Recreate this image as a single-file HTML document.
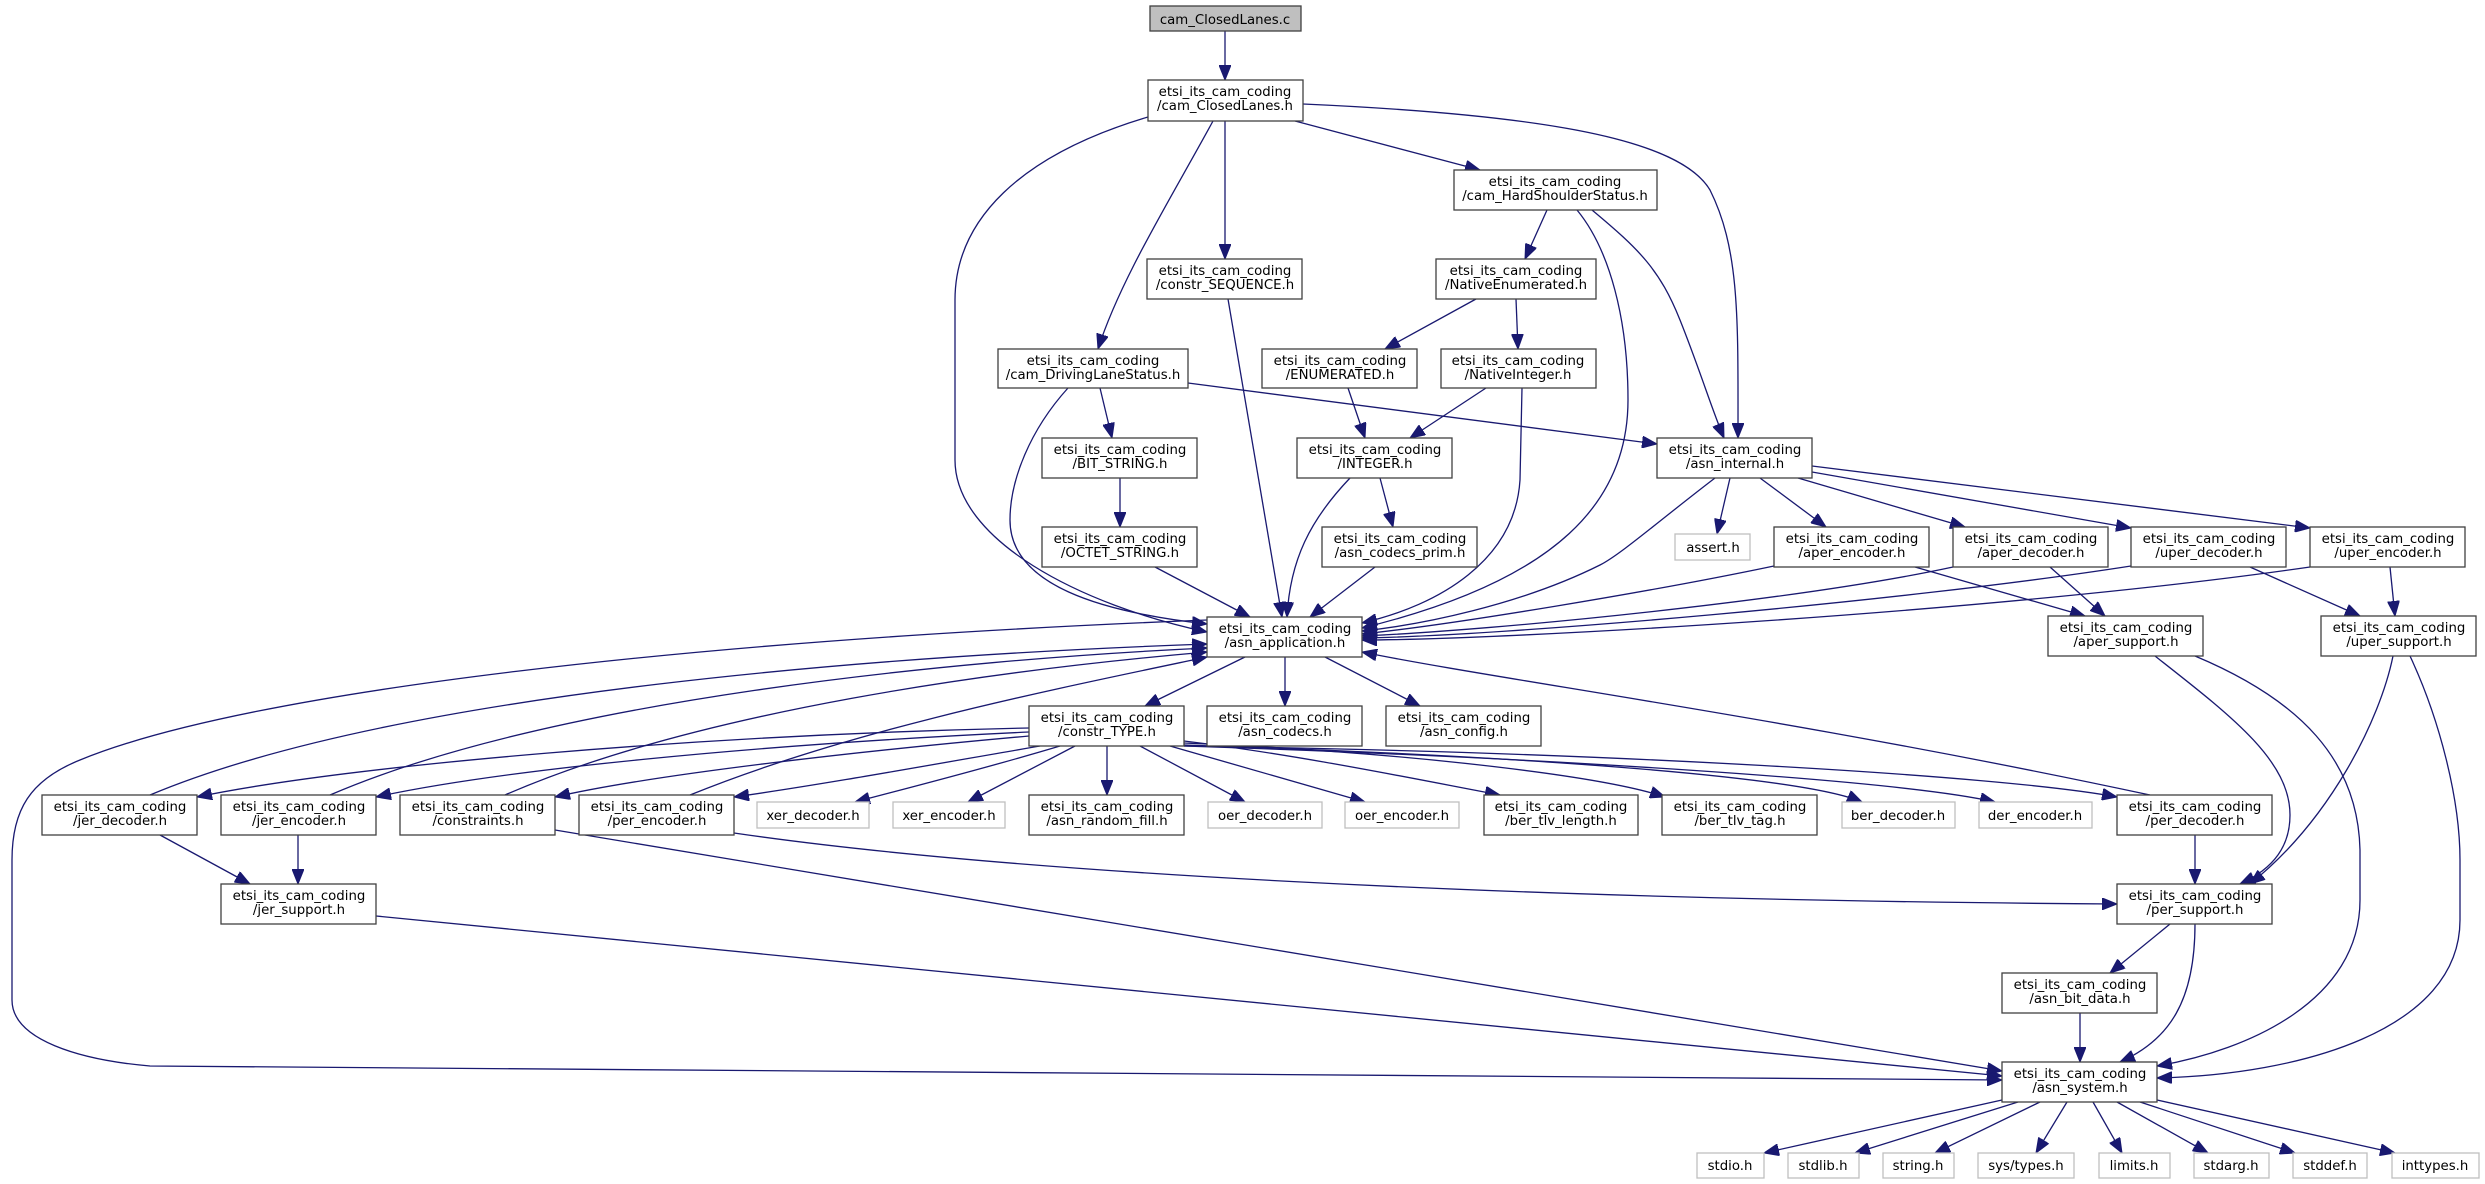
<!DOCTYPE html>
<html><head><meta charset="utf-8"><style>
html,body{margin:0;padding:0;background:#fff;}
svg{display:block}
text{font-family:"DejaVu Sans","Liberation Sans",sans-serif;font-size:13.3px;fill:#000;text-anchor:middle}
.n{fill:#fff;stroke:#404040;stroke-width:1.3}
.g{fill:#fff;stroke:#bfbfbf;stroke-width:1.3}
.e path{fill:none;stroke:#191970;stroke-width:1.3;marker-end:url(#a)}
</style></head><body>
<svg width="2485" height="1184" viewBox="0 0 2485 1184" xmlns="http://www.w3.org/2000/svg">
<defs><marker id="a" markerUnits="userSpaceOnUse" markerWidth="16" markerHeight="12" refX="15" refY="6" orient="auto"><path d="M0,0 L15,6 L0,12 z" fill="#191970" stroke="#191970"/></marker></defs>
<g class="e">
<path d="M1225,31 L1225,80"/>
<path d="M1295,121 L1480,170"/>
<path d="M1225,121 L1225,259"/>
<path d="M1213,121 C1170,200 1120,280 1098,349"/>
<path d="M1148,117 C1020,155 955,220 955,300 L955,460 C955,540 1080,605 1207,632"/>
<path d="M1303,104 C1550,115 1680,140 1710,190 C1740,250 1738,320 1738,438"/>
<path d="M1547,210 L1525,259"/>
<path d="M1577,210 C1610,250 1628,320 1628,400 C1628,500 1560,580 1362,628"/>
<path d="M1592,210 C1640,250 1660,270 1680,320 C1700,370 1712,410 1724,438"/>
<path d="M1228,299 L1282,617"/>
<path d="M1476,299 L1385,349"/>
<path d="M1516,299 L1518,349"/>
<path d="M1100,388 L1112,438"/>
<path d="M1068,388 C1030,430 1010,480 1010,520 C1010,585 1100,612 1207,624"/>
<path d="M1188,383 L1657,444"/>
<path d="M1348,388 L1365,438"/>
<path d="M1486,388 L1410,438"/>
<path d="M1522,388 L1520,480 C1515,560 1440,605 1362,623"/>
<path d="M1120,478 L1120,527"/>
<path d="M1155,567 L1250,617"/>
<path d="M1380,478 L1393,527"/>
<path d="M1350,478 C1310,520 1290,560 1287,617"/>
<path d="M1375,567 L1310,617"/>
<path d="M1730,478 L1717,534"/>
<path d="M1760,478 L1826,527"/>
<path d="M1798,478 L1965,527"/>
<path d="M1812,472 L2131,528"/>
<path d="M1812,466 L2310,528"/>
<path d="M1715,478 C1660,520 1620,555 1600,565 C1520,605 1420,625 1362,631"/>
<path d="M1774,566 C1650,592 1450,625 1362,634"/>
<path d="M1953,567 C1800,600 1500,630 1362,636"/>
<path d="M2131,566 C1900,602 1500,636 1362,638"/>
<path d="M2310,567 C2000,612 1500,640 1362,640"/>
<path d="M1915,567 L2085,616"/>
<path d="M2050,567 L2105,616"/>
<path d="M2250,567 L2360,616"/>
<path d="M2390,567 L2395,616"/>
<path d="M2155,656 C2230,715 2290,760 2290,815 C2290,845 2275,868 2240,884"/>
<path d="M2195,656 C2300,700 2358,760 2360,850 L2360,900 C2360,1000 2250,1050 2157,1066"/>
<path d="M2393,656 C2380,720 2330,820 2250,884"/>
<path d="M2410,656 C2440,720 2460,800 2460,860 L2460,920 C2460,1030 2300,1075 2157,1078"/>
<path d="M1245,657 L1145,706"/>
<path d="M1285,657 L1285,706"/>
<path d="M1325,657 L1420,706"/>
<path d="M1107,746 L1107,795"/>
<path d="M1029,728 C700,735 350,765 197,797"/>
<path d="M1029,732 C750,745 500,770 376,797"/>
<path d="M1029,736 C850,752 650,775 555,797"/>
<path d="M1040,746 C930,765 820,785 734,797"/>
<path d="M1060,746 C980,770 900,790 855,802"/>
<path d="M1075,746 L968,802"/>
<path d="M1140,746 L1245,802"/>
<path d="M1170,746 L1365,802"/>
<path d="M1184,741 C1300,755 1420,780 1500,795"/>
<path d="M1184,743 C1400,752 1600,775 1665,797"/>
<path d="M1184,745 C1500,755 1800,775 1862,802"/>
<path d="M1184,746 C1550,758 1900,780 1995,802"/>
<path d="M1184,746 C1600,752 2000,775 2117,797"/>
<path d="M150,795 C400,690 900,655 1207,644"/>
<path d="M330,795 C550,700 950,660 1207,648"/>
<path d="M505,795 C700,710 1000,670 1207,652"/>
<path d="M690,795 C850,730 1050,690 1207,657"/>
<path d="M2150,795 C1800,720 1500,680 1362,652"/>
<path d="M160,835 L250,884"/>
<path d="M298,835 L298,884"/>
<path d="M376,916 L2002,1076"/>
<path d="M555,830 L2002,1071"/>
<path d="M734,833 C1000,872 1500,900 2117,904"/>
<path d="M1207,620 C700,640 250,690 80,760 C30,780 12,810 12,860 L12,1000 C12,1040 80,1060 150,1066 L2002,1080"/>
<path d="M2195,835 L2195,884"/>
<path d="M2170,924 L2110,973"/>
<path d="M2195,924 C2195,1000 2170,1040 2120,1062"/>
<path d="M2080,1013 L2080,1062"/>
<path d="M2002,1100 L1764,1153"/>
<path d="M2018,1102 L1855,1153"/>
<path d="M2040,1102 L1935,1153"/>
<path d="M2067,1102 L2036,1153"/>
<path d="M2093,1102 L2122,1153"/>
<path d="M2117,1102 L2208,1153"/>
<path d="M2140,1102 L2295,1153"/>
<path d="M2157,1100 L2395,1153"/>
</g>
<!-- nodes -->
<rect x="1150" y="6" width="151" height="25" fill="#bfbfbf" stroke="#404040" stroke-width="1.3"/><text x="1225" y="24">cam_ClosedLanes.c</text>
<rect class="n" x="1148" y="80" width="155" height="41"/><text x="1225" y="96">etsi_its_cam_coding</text><text x="1225" y="110">/cam_ClosedLanes.h</text>
<rect class="n" x="1454" y="170" width="203" height="40"/><text x="1555" y="186">etsi_its_cam_coding</text><text x="1555" y="200">/cam_HardShoulderStatus.h</text>
<rect class="n" x="1147" y="259" width="155" height="40"/><text x="1225" y="275">etsi_its_cam_coding</text><text x="1225" y="289">/constr_SEQUENCE.h</text>
<rect class="n" x="1436" y="259" width="160" height="40"/><text x="1516" y="275">etsi_its_cam_coding</text><text x="1516" y="289">/NativeEnumerated.h</text>
<rect class="n" x="998" y="349" width="190" height="39"/><text x="1093" y="365">etsi_its_cam_coding</text><text x="1093" y="379">/cam_DrivingLaneStatus.h</text>
<rect class="n" x="1262" y="349" width="155" height="39"/><text x="1340" y="365">etsi_its_cam_coding</text><text x="1340" y="379">/ENUMERATED.h</text>
<rect class="n" x="1441" y="349" width="155" height="39"/><text x="1518" y="365">etsi_its_cam_coding</text><text x="1518" y="379">/NativeInteger.h</text>
<rect class="n" x="1042" y="438" width="155" height="40"/><text x="1120" y="454">etsi_its_cam_coding</text><text x="1120" y="468">/BIT_STRING.h</text>
<rect class="n" x="1297" y="438" width="155" height="40"/><text x="1375" y="454">etsi_its_cam_coding</text><text x="1375" y="468">/INTEGER.h</text>
<rect class="n" x="1657" y="438" width="155" height="40"/><text x="1735" y="454">etsi_its_cam_coding</text><text x="1735" y="468">/asn_internal.h</text>
<rect class="n" x="1042" y="527" width="155" height="40"/><text x="1120" y="543">etsi_its_cam_coding</text><text x="1120" y="557">/OCTET_STRING.h</text>
<rect class="n" x="1322" y="527" width="155" height="40"/><text x="1400" y="543">etsi_its_cam_coding</text><text x="1400" y="557">/asn_codecs_prim.h</text>
<rect class="g" x="1675" y="534" width="75" height="26"/><text x="1713" y="552">assert.h</text>
<rect class="n" x="1774" y="527" width="155" height="40"/><text x="1852" y="543">etsi_its_cam_coding</text><text x="1852" y="557">/aper_encoder.h</text>
<rect class="n" x="1953" y="527" width="155" height="40"/><text x="2031" y="543">etsi_its_cam_coding</text><text x="2031" y="557">/aper_decoder.h</text>
<rect class="n" x="2131" y="527" width="155" height="40"/><text x="2209" y="543">etsi_its_cam_coding</text><text x="2209" y="557">/uper_decoder.h</text>
<rect class="n" x="2310" y="527" width="155" height="40"/><text x="2388" y="543">etsi_its_cam_coding</text><text x="2388" y="557">/uper_encoder.h</text>
<rect class="n" x="1207" y="617" width="155" height="40"/><text x="1285" y="633">etsi_its_cam_coding</text><text x="1285" y="647">/asn_application.h</text>
<rect class="n" x="2048" y="616" width="155" height="40"/><text x="2126" y="632">etsi_its_cam_coding</text><text x="2126" y="646">/aper_support.h</text>
<rect class="n" x="2321" y="616" width="155" height="40"/><text x="2399" y="632">etsi_its_cam_coding</text><text x="2399" y="646">/uper_support.h</text>
<rect class="n" x="1029" y="706" width="155" height="40"/><text x="1107" y="722">etsi_its_cam_coding</text><text x="1107" y="736">/constr_TYPE.h</text>
<rect class="n" x="1207" y="706" width="155" height="40"/><text x="1285" y="722">etsi_its_cam_coding</text><text x="1285" y="736">/asn_codecs.h</text>
<rect class="n" x="1386" y="706" width="155" height="40"/><text x="1464" y="722">etsi_its_cam_coding</text><text x="1464" y="736">/asn_config.h</text>
<rect class="n" x="42" y="795" width="155" height="40"/><text x="120" y="811">etsi_its_cam_coding</text><text x="120" y="825">/jer_decoder.h</text>
<rect class="n" x="221" y="795" width="155" height="40"/><text x="299" y="811">etsi_its_cam_coding</text><text x="299" y="825">/jer_encoder.h</text>
<rect class="n" x="400" y="795" width="155" height="40"/><text x="478" y="811">etsi_its_cam_coding</text><text x="478" y="825">/constraints.h</text>
<rect class="n" x="579" y="795" width="155" height="40"/><text x="657" y="811">etsi_its_cam_coding</text><text x="657" y="825">/per_encoder.h</text>
<rect class="g" x="757" y="802" width="112" height="26"/><text x="813" y="820">xer_decoder.h</text>
<rect class="g" x="893" y="802" width="112" height="26"/><text x="949" y="820">xer_encoder.h</text>
<rect class="n" x="1029" y="795" width="155" height="40"/><text x="1107" y="811">etsi_its_cam_coding</text><text x="1107" y="825">/asn_random_fill.h</text>
<rect class="g" x="1208" y="802" width="114" height="26"/><text x="1265" y="820">oer_decoder.h</text>
<rect class="g" x="1345" y="802" width="114" height="26"/><text x="1402" y="820">oer_encoder.h</text>
<rect class="n" x="1484" y="795" width="154" height="40"/><text x="1561" y="811">etsi_its_cam_coding</text><text x="1561" y="825">/ber_tlv_length.h</text>
<rect class="n" x="1662" y="795" width="155" height="40"/><text x="1740" y="811">etsi_its_cam_coding</text><text x="1740" y="825">/ber_tlv_tag.h</text>
<rect class="g" x="1842" y="802" width="113" height="26"/><text x="1898" y="820">ber_decoder.h</text>
<rect class="g" x="1979" y="802" width="113" height="26"/><text x="2035" y="820">der_encoder.h</text>
<rect class="n" x="2117" y="795" width="155" height="40"/><text x="2195" y="811">etsi_its_cam_coding</text><text x="2195" y="825">/per_decoder.h</text>
<rect class="n" x="221" y="884" width="155" height="40"/><text x="299" y="900">etsi_its_cam_coding</text><text x="299" y="914">/jer_support.h</text>
<rect class="n" x="2117" y="884" width="155" height="40"/><text x="2195" y="900">etsi_its_cam_coding</text><text x="2195" y="914">/per_support.h</text>
<rect class="n" x="2002" y="973" width="155" height="40"/><text x="2080" y="989">etsi_its_cam_coding</text><text x="2080" y="1003">/asn_bit_data.h</text>
<rect class="n" x="2002" y="1062" width="155" height="40"/><text x="2080" y="1078">etsi_its_cam_coding</text><text x="2080" y="1092">/asn_system.h</text>
<rect class="g" x="1697" y="1153" width="67" height="25"/><text x="1730" y="1170">stdio.h</text>
<rect class="g" x="1788" y="1153" width="71" height="25"/><text x="1823" y="1170">stdlib.h</text>
<rect class="g" x="1883" y="1153" width="71" height="25"/><text x="1918" y="1170">string.h</text>
<rect class="g" x="1978" y="1153" width="96" height="25"/><text x="2026" y="1170">sys/types.h</text>
<rect class="g" x="2099" y="1153" width="71" height="25"/><text x="2134" y="1170">limits.h</text>
<rect class="g" x="2194" y="1153" width="75" height="25"/><text x="2231" y="1170">stdarg.h</text>
<rect class="g" x="2293" y="1153" width="74" height="25"/><text x="2330" y="1170">stddef.h</text>
<rect class="g" x="2392" y="1153" width="87" height="25"/><text x="2435" y="1170">inttypes.h</text>
</svg>
</body></html>
